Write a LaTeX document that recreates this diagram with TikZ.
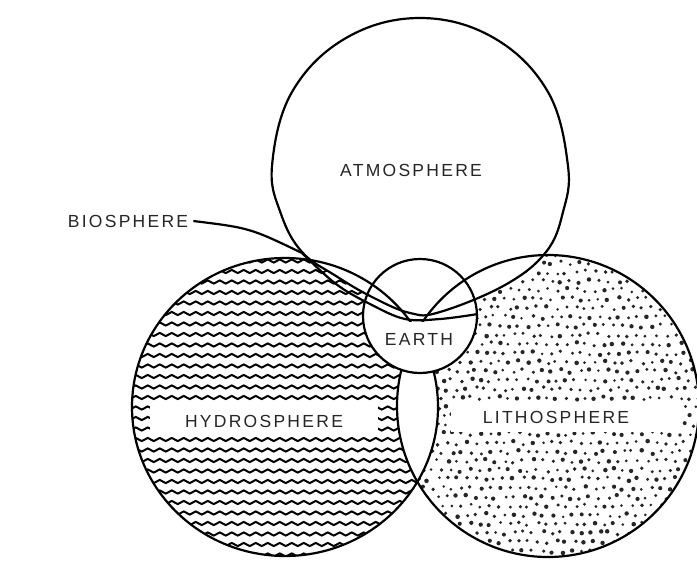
\documentclass[tikz,border=0pt]{standalone}
\usepackage{fontspec}
\newfontfamily\spherefont[LetterSpace=13]{Liberation Sans}
\usetikzlibrary{decorations.pathmorphing}

\tikzset{
  atmshape/.style={insert path={plot[smooth cycle, tension=0.65] coordinates {
    (420,18) (494,38) (548,92) (568,166) (563,212) (546,252) (505,285)
    (440,312) (410,313) (372,297) (336,276) (302,252) (281,214) (272,166) (292,92) (346,38)}}},
}

\begin{document}
\begin{tikzpicture}[x=1pt, y=-1pt,
    rim/.style={line width=2.2pt},
    tag/.style={font=\spherefont\fontsize{17.5}{18}\selectfont, text=black!85, inner sep=0pt},
    wave/.style={line width=2pt, decorate, decoration={snake, amplitude=1.6pt, segment length=12pt}}]
  \useasboundingbox (0,0) rectangle (697,563);
  \coordinate (hc) at (285,407);
  \coordinate (lc) at (548,406);
  \coordinate (ec) at (420,316);
  \coordinate (biotip) at (302,253);

  % hydrosphere waves
  \begin{scope}
    \clip (hc) ellipse [x radius=153, y radius=149];
    \foreach \y in {261,271.5,...,560}
      \draw[wave] (120,\y) -- (450,\y);
  \end{scope}

  % lithosphere dots
  \begin{scope}
    \clip (lc) circle [radius=151];
    \pgfmathsetseed{7}
    \foreach \i in {0,...,32}
      \foreach \j in {0,...,34} {
        \pgfmathsetmacro\dx{395+\i*9.5+mod(\j,2)*4.75+rand*2}
        \pgfmathsetmacro\dy{254+\j*9+rand*2}
        \pgfmathsetmacro\ds{1.4+rnd*0.9}
        \fill[black!85] (\dx,\dy) circle [radius=\ds];
      }
  \end{scope}

  % white parts
  \begin{scope}
    \clip (hc) ellipse [x radius=153, y radius=149];
    \fill[white] (lc) circle [radius=151];
  \end{scope}
  \fill[white, atmshape];
  \fill[white] (ec) circle [radius=57];

  % outlines
  \draw[rim] (hc) ellipse [x radius=153, y radius=149];
  \draw[rim] (lc) circle [radius=151];
  \draw[rim, atmshape];
  \begin{scope}
    \clip (ec) circle [radius=57];
    \fill[white] (350,322) rectangle (490,380);
  \end{scope}
  \draw[rim] plot[smooth, tension=0.6] coordinates {(biotip) (336,284) (370,304) (405,319) (440,319) (478,314)};
  \draw[rim] (ec) circle [radius=57];

  % labels
  \node[tag] (atm) at (411,170) {ATMOSPHERE};
  \node[tag, fill=white, minimum width=228, minimum height=32] (hyd) at (264,421) {HYDROSPHERE};
  \node[tag, fill=white, minimum width=231, minimum height=30] (lit) at (566,417) {LITHOSPHERE\hspace*{20pt}};
  \node[tag] (earth) at (419,339) {EARTH};
  \node[tag, fill=white, inner xsep=5pt, inner ysep=6pt] (bio) at (128,221) {BIOSPHERE};
  \draw[rim] (bio.east) .. controls (250,228) .. (biotip);
\end{tikzpicture}
\end{document}
